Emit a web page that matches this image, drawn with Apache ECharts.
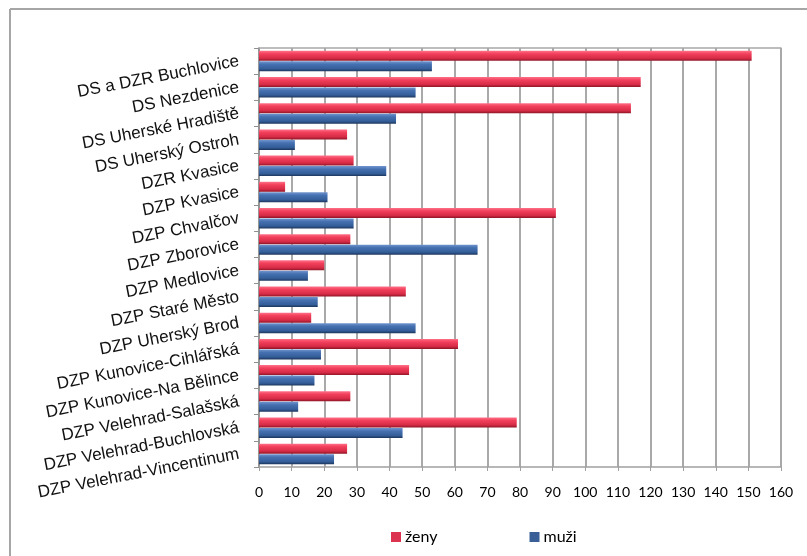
<!DOCTYPE html>
<html>
<head>
<meta charset="utf-8">
<script src="https://cdn.jsdelivr.net/npm/echarts@6/dist/echarts.min.js"></script>
<style>html,body{margin:0;padding:0;background:#fff}#c{width:807px;height:556px}</style>
</head>
<body>
<div id="c"></div>
<script>
const categories = ["DS a DZR Buchlovice","DS Nezdenice","DS Uherské Hradiště","DS Uherský Ostroh","DZR Kvasice","DZP Kvasice","DZP Chvalčov","DZP Zborovice","DZP Medlovice","DZP Staré Město","DZP Uherský Brod","DZP Kunovice-Cihlářská","DZP Kunovice-Na Bělince","DZP Velehrad-Salašská","DZP Velehrad-Buchlovská","DZP Velehrad-Vincentinum"];
const zeny = [151,117,114,27,29,8,91,28,20,45,16,61,46,28,79,27];
const muzi = [53,48,42,11,39,21,29,67,15,18,48,19,17,12,44,23];
const xTicks = [0,10,20,30,40,50,60,70,80,90,100,110,120,130,140,150,160];

const chart = echarts.init(document.getElementById('c'));
const redGrad = new echarts.graphic.LinearGradient(0,0,0,1,[
  {offset:0,color:'#ff7088'},{offset:0.3,color:'#f2405c'},{offset:0.75,color:'#d62b46'},{offset:1,color:'#8e1526'}]);
const blueGrad = new echarts.graphic.LinearGradient(0,0,0,1,[
  {offset:0,color:'#7195cd'},{offset:0.3,color:'#4671b1'},{offset:0.75,color:'#345e99'},{offset:1,color:'#1c355c'}]);
chart.setOption({
  animation:false,
  graphic:[
    {type:'line',shape:{x1:10,y1:9,x2:10,y2:556},style:{stroke:'#a6a6a6',lineWidth:2}},
    {type:'line',shape:{x1:10,y1:9,x2:807,y2:9},style:{stroke:'#a6a6a6',lineWidth:2}}
  ],
  legend:{
    top:524,left:386,itemGap:92,itemWidth:10,itemHeight:10,icon:'rect',
    textStyle:{fontFamily:'Lato, sans-serif',fontSize:16,color:'#000',padding:[0,0,0,-1]},
    data:[{name:'ženy',itemStyle:{color:'#dc3450'}},{name:'muži',itemStyle:{color:'#3a5f96'}}]
  },
  grid:{left:259,right:26,top:48,bottom:89},
  xAxis:[{
    type:'value',min:0,max:160,interval:10,
    axisLine:{show:true,lineStyle:{color:'#a0a0a0',width:1.5}},
    axisTick:{show:true,length:4,lineStyle:{color:'#a0a0a0'}},
    axisLabel:{color:'#000',fontSize:14,margin:18,fontFamily:'Lato, sans-serif',
      formatter:v=>xTicks.includes(v)?String(v):''},
    splitLine:{show:true,lineStyle:{color:'#a0a0a0',width:1.8}}
  },{
    type:'value',min:0,max:160,position:'top',
    axisLine:{show:true,lineStyle:{color:'#a8a8a8',width:1.5}},
    axisTick:{show:false},axisLabel:{show:false},splitLine:{show:false}
  }],
  yAxis:{
    type:'category',data:categories,inverse:true,
    axisLine:{show:true,lineStyle:{color:'#909090',width:1.5}},
    axisTick:{show:true,length:5,lineStyle:{color:'#909090'}},
    axisLabel:{rotate:11,color:'#111',fontSize:17,margin:20,fontFamily:'"Liberation Sans", Arial, sans-serif'}
  },
  series:[
    {name:'ženy',type:'bar',data:zeny,barWidth:10,barGap:'5%',itemStyle:{color:redGrad}},
    {name:'muži',type:'bar',data:muzi,barWidth:10,itemStyle:{color:blueGrad}}
  ]
});
</script>
</body>
</html>
